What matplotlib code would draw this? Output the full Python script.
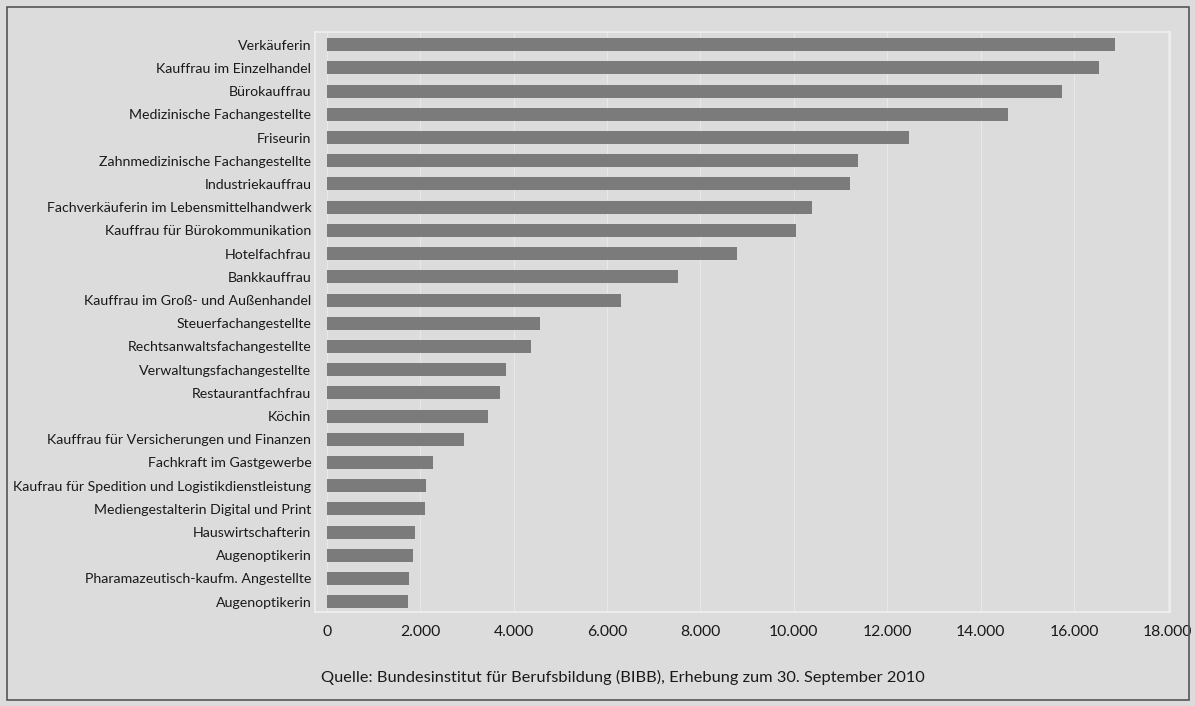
import matplotlib.pyplot as plt
from matplotlib.patches import Rectangle

# ------------------------------------------------
# DATA
# ------------------------------------------------

berufe = [
    "Verkäuferin",
    "Kauffrau im Einzelhandel",
    "Bürokauffrau",
    "Medizinische Fachangestellte",
    "Friseurin",
    "Zahnmedizinische Fachangestellte",
    "Industriekauffrau",
    "Fachverkäuferin im Lebensmittelhandwerk",
    "Kauffrau für Bürokommunikation",
    "Hotelfachfrau",
    "Bankkauffrau",
    "Kauffrau im Groß- und Außenhandel",
    "Steuerfachangestellte",
    "Rechtsanwaltsfachangestellte",
    "Verwaltungsfachangestellte",
    "Restaurantfachfrau",
    "Köchin",
    "Kauffrau für Versicherungen und Finanzen",
    "Fachkraft im Gastgewerbe",
    "Kaufrau für Spedition und Logistikdienstleistung",
    "Mediengestalterin Digital und Print",
    "Hauswirtschafterin",
    "Augenoptikerin",
    "Pharamazeutisch-kaufm. Angestellte",
    "Augenoptikerin",
]

anzahl = [
    16870, 16530, 15740, 14580, 12470, 11370, 11200, 10390, 10040, 8780,
    7520, 6300, 4560, 4370, 3830, 3700, 3450, 2930, 2270, 2120,
    2100, 1880, 1840, 1760, 1730,
]

x_ticks = [0, 2000, 4000, 6000, 8000, 10000, 12000, 14000, 16000, 18000]
x_labels = ["0", "2.000", "4.000", "6.000", "8.000", "10.000", "12.000",
            "14.000", "16.000", "18.000"]

QUELLE = "Quelle: Bundesinstitut für Berufsbildung (BIBB), Erhebung zum 30. September 2010"

# ------------------------------------------------
# PLOT
# ------------------------------------------------

BG = "#dcdcdc"
BAR = "#7b7b7b"

plt.rcParams["font.family"] = ["Lato", "DejaVu Sans"]

fig = plt.figure(figsize=(11.95, 7.06), dpi=100, facecolor=BG)
ax = fig.add_axes([0.264, 0.133, 0.715, 0.822])
ax.set_facecolor(BG)

pos = list(range(len(berufe)))
ax.barh(pos, anzahl, height=0.56, color=BAR, zorder=3)

ax.set_yticks(pos)
ax.set_yticklabels(berufe, fontsize=10.2, color="#1a1a1a")
ax.set_ylim(24.45, -0.56)

ax.set_xticks(x_ticks)
ax.set_xticklabels(x_labels, fontsize=11.3, color="#1a1a1a")
ax.set_xlim(-240, 18050)

ax.tick_params(axis="both", length=0)
ax.tick_params(axis="y", pad=3)
ax.tick_params(axis="x", pad=9)

ax.grid(axis="x", color="#f4f4f4", alpha=0.5, linewidth=0.8, zorder=0)
for s in ax.spines.values():
    s.set_color("#f2f2f2")
    s.set_linewidth(1.1)

fig.text(0.521, 0.040, QUELLE, ha="center", va="center", fontsize=11.8,
         color="#1a1a1a")

# outer frame
fig.patches.append(Rectangle((0.006, 0.009), 0.989, 0.981, transform=fig.transFigure,
                             fill=False, edgecolor="#555555", linewidth=1.2))

plt.savefig("out.png", dpi=100, facecolor=BG)
plt.close()
